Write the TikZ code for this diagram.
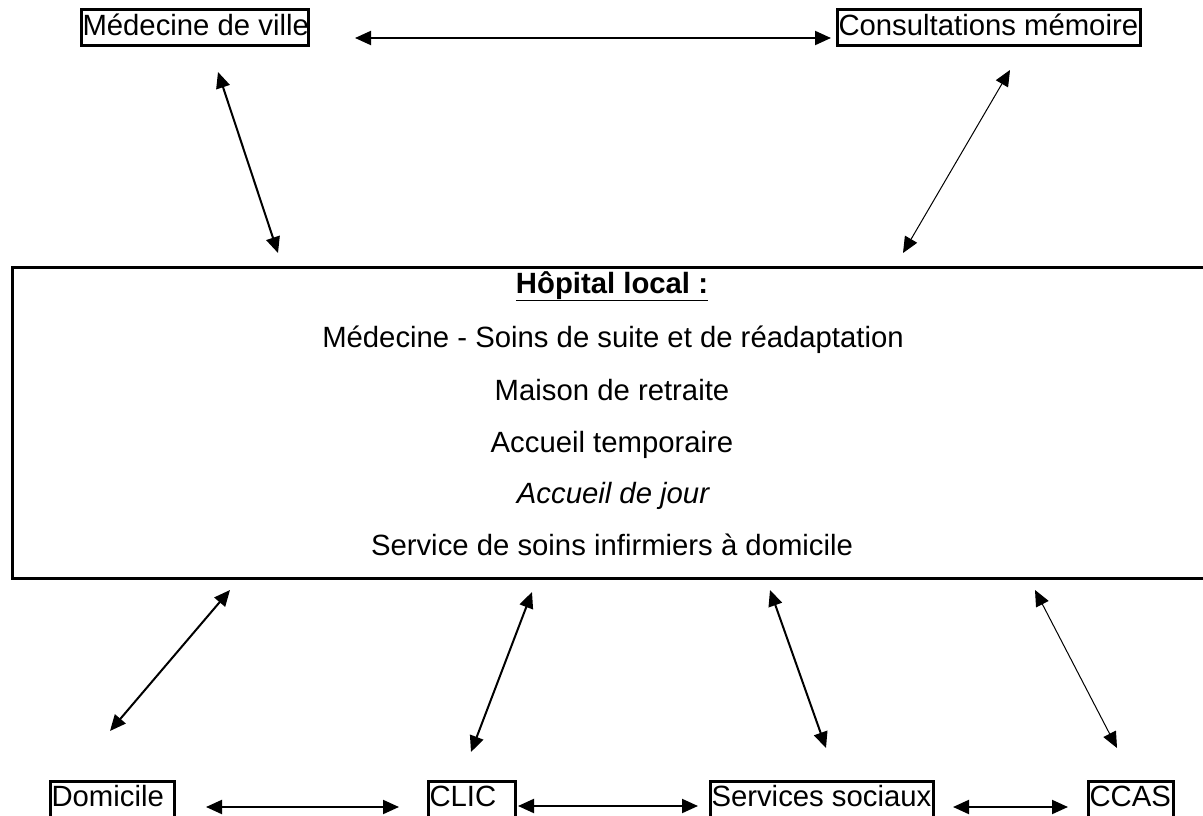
\documentclass[tikz,border=0pt]{standalone}
\usepackage{fontspec}
\setmainfont{Liberation Sans}
\usetikzlibrary{arrows.meta}
\begin{document}
\begin{tikzpicture}[x=1pt,y=-1pt,
  every node/.style={font=\fontsize{29.3}{35}\selectfont},
  smallbox/.style={draw,line width=3pt,minimum height=36pt,inner xsep=1.5pt,inner ysep=0pt,text height=21pt,text depth=6pt},
  bigbox/.style={draw,line width=3pt},
  line/.style={inner sep=0pt,anchor=base},
  link/.style={line width=2pt,{Triangle[length=16pt,width=14pt]}-{Triangle[length=16pt,width=14pt]}},
  thinlink/.style={link,line width=1pt}]
\useasboundingbox (0,0) rectangle (1203,816);
\fill[white] (0,0) rectangle (1203,816);
% big box
\node[bigbox,minimum width=1204pt,minimum height=311pt,anchor=north west] (hop) at (11,266) {};
\node[line] (t0) at (612,293) {\textbf{\underline{Hôpital local :}}};
\node[line] (t1) at (613,347) {Médecine - Soins de suite et de réadaptation};
\node[line] (t2) at (612,400) {Maison de retraite};
\node[line] (t3) at (612,452) {Accueil temporaire};
\node[line] (t4) at (613,503) {\itshape Accueil de jour};
\node[line] (t5) at (612,555) {Service de soins infirmiers à domicile};
% small boxes
\node[smallbox] (mv) at (194.5,28) {\makebox[224pt][l]{Médecine de ville}};
\node[smallbox] (cm) at (988.5,28) {\makebox[300pt][l]{Consultations mémoire}};
\node[smallbox] (dom) at (112,799) {\makebox[121pt][l]{Domicile}};
\node[smallbox] (clic) at (471.5,799) {\makebox[84pt][l]{CLIC}};
\node[smallbox] (ss) at (821.5,799) {\makebox[220pt][l]{Services sociaux}};
\node[smallbox] (ccas) at (1130.5,799) {\makebox[82pt][l]{CCAS}};
% connector end points
\coordinate (mvA) at (218,72);   \coordinate (mvB) at (278,253);
\coordinate (cmA) at (1010,70);  \coordinate (cmB) at (903,253);
\coordinate (domA) at (110,731); \coordinate (domB) at (230,590);
\coordinate (clA) at (471,752);  \coordinate (clB) at (532,592);
\coordinate (ssA) at (826,748);  \coordinate (ssB) at (770,590);
\coordinate (ccA) at (1117,748); \coordinate (ccB) at (1035,590);
\coordinate (h1a) at (355,38);   \coordinate (h1b) at (831,38);
\coordinate (h2a) at (206,807);  \coordinate (h2b) at (399,807);
\coordinate (h3a) at (518,806);  \coordinate (h3b) at (698,806);
\coordinate (h4a) at (953,807);  \coordinate (h4b) at (1068,807);
\draw[link] (h1a) -- (h1b);
\draw[link] (mvA) -- (mvB);
\draw[thinlink] (cmA) -- (cmB);
\draw[link] (domA) -- (domB);
\draw[link] (clA) -- (clB);
\draw[link] (ssA) -- (ssB);
\draw[thinlink] (ccA) -- (ccB);
\draw[link] (h2a) -- (h2b);
\draw[link] (h3a) -- (h3b);
\draw[link] (h4a) -- (h4b);
\end{tikzpicture}
\end{document}
